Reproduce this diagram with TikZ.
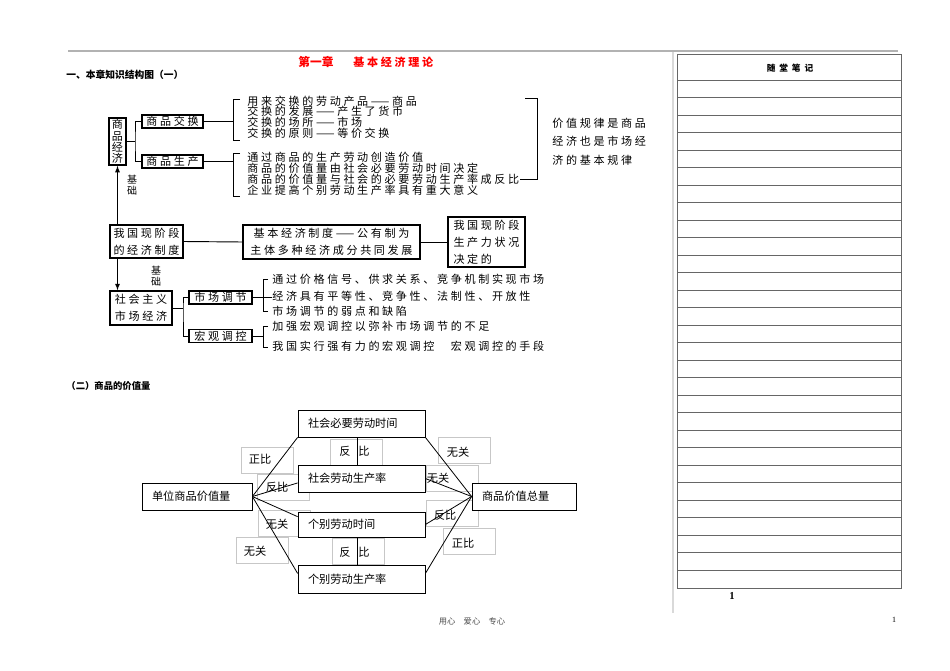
\documentclass[tikz,border=0pt]{standalone}
\usepackage{fontspec}
\setmainfont{Liberation Serif}
\newfontfamily\cjk{Noto Sans CJK SC}
\newfontfamily\cjksp[LetterSpace=24]{Noto Sans CJK SC}
\newfontfamily\cjkwide[LetterSpace=45]{Noto Sans CJK SC}
\usetikzlibrary{calc}

\begin{document}
\begin{tikzpicture}[x=0.75pt,y=-0.75pt,line width=0.7pt,every node/.style={inner sep=0pt},
  box/.style={draw,fill=white,line width=1pt,inner sep=1pt,align=center,font=\cjksp\fontsize{8.3}{12.75}\selectfont},
  ln/.style={anchor=west,font=\cjksp\fontsize{8.3}{10}\selectfont},
  fbox/.style={draw,fill=white,line width=0.6pt,align=left,inner xsep=7.5pt,font=\cjk\fontsize{8.4}{10}\selectfont},
  lab/.style={font=\cjk\fontsize{8.4}{10}\selectfont},
  small/.style={align=center,font=\cjk\fontsize{7.5}{7.8}\selectfont},
  gframe/.style={draw=black!22,line width=0.5pt},
  rule/.style={draw=black!60,line width=0.75pt}]
\useasboundingbox[fill=white] (0,0) rectangle (950,671);

% page frame
\draw[gray!60,line width=1.5pt] (68,51) -- (898,51);
\draw[gray!30,line width=1.5pt] (673,52) -- (673,613);
\node[anchor=west,red,font=\cjk\bfseries\fontsize{8.8}{10}\selectfont] (ttl1) at (298,62) {第一章};
\node[anchor=west,red,font=\cjksp\bfseries\fontsize{8.3}{10}\selectfont] (ttl2) at (353,62) {基本经济理论};
\node[anchor=west,font=\cjk\bfseries\fontsize{7.3}{9}\selectfont] (sec1) at (66,75) {一、本章知识结构图（一）};
\node[anchor=west,font=\cjk\bfseries\fontsize{7}{9}\selectfont] (sec2) at (66,386) {（二）商品的价值量};

% ---- structure chart (一) ----
\node[box,minimum width=12.75pt,minimum height=35.25pt,font=\cjk\fontsize{8.3}{8.6}\selectfont] (spjj) at (117.5,141.5) {商\\品\\经\\济};
\node[box,minimum width=45.75pt,minimum height=8pt] (spjh) at (172.5,121.5) {商品交换};
\node[box,minimum width=45.75pt,minimum height=8pt] (spsc) at (172.5,161.5) {商品生产};
\coordinate (fk1) at (135,141.5);
\draw (spjj.east) -- (fk1);
\draw (spjh.west) -| (fk1) |- (spsc.west);

\node[ln] (a1) at (247,101) {用来交换的劳动产品——商品};
\node[ln] (a2) at (247,111.5) {交换的发展——产生了货币};
\node[ln] (a3) at (247,122.5) {交换的场所——市场};
\node[ln] (a4) at (247,133.5) {交换的原则——等价交换};
\coordinate (k1t) at (233,99);
\coordinate (k1b) at (233,140);
\draw (spjh.east) -- (spjh.east -| k1t);
\draw (k1t) ++(7,0) -- (k1t) -- (k1b) -- ++(7,0);

\node[ln] (p1) at (247,157) {通过商品的生产劳动创造价值};
\node[ln] (p2) at (247,168.5) {商品的价值量由社会必要劳动时间决定};
\node[ln] (p3) at (247,179.5) {商品的价值量与社会的必要劳动生产率成反比};
\node[ln] (p4) at (247,190.5) {企业提高个别劳动生产率具有重大意义};
\coordinate (k2t) at (233,153);
\coordinate (k2b) at (233,196);
\draw (spsc.east) -- (spsc.east -| k2t);
\draw (k2t) ++(7,0) -- (k2t) -- (k2b) -- ++(7,0);

% right bracket
\coordinate (kr) at (537,98);
\draw (kr) ++(-12,0) -- (kr) -- (kr |- p3.east) -- (p3.east);
\node[ln] (law1) at (552,123) {价值规律是商品};
\node[ln] (law2) at (552,141.5) {经济也是市场经};
\node[ln] (law3) at (552,160) {济的基本规律};

% basis
\node[box,minimum width=54.75pt,minimum height=24.75pt] (jjzd) at (146.5,241.5) {我国现阶段\\的经济制度};
\draw[-latex] (spjj.south |- jjzd.north) -- (spjj.south);
\node[small] (jc1) at (132,185) {基\\础};
\node[box,minimum width=132.75pt,minimum height=25.5pt] (jbzd) at (331.5,242) {基本经济制度——公有制为\\主体多种经济成分共同发展};
\node[box,align=left,minimum width=57.75pt,minimum height=37.5pt] (scl) at (486.5,242) {我国现阶段\\生产力状况\\决定的};
\draw (jjzd.east) -- (jbzd.west);
\draw (jbzd.east) -- (scl.west);

\node[box,minimum width=46.5pt,minimum height=25.5pt] (scjj) at (141,308) {社会主义\\市场经济};
\draw[-latex] (spjj.south |- jjzd.south) -- (spjj.south |- scjj.north);
\node[small] (jc2) at (156,276) {基\\础};

\node[box,minimum width=47.25pt,minimum height=8pt] (sctj) at (220.5,297.5) {市场调节};
\node[box,minimum width=47.25pt,minimum height=8pt] (hgtk) at (220.5,336) {宏观调控};
\coordinate (fk2) at (183,308);
\draw (scjj.east) -- (fk2);
\draw (sctj.west) -| (fk2) |- (hgtk.west);

\node[ln] (c1) at (272,279) {通过价格信号、供求关系、竞争机制实现市场};
\node[ln] (c2) at (272,296) {经济具有平等性、竞争性、法制性、开放性};
\node[ln] (c3) at (272,311) {市场调节的弱点和缺陷};
\coordinate (k3t) at (263,279);
\coordinate (k3b) at (263,311);
\draw (sctj.east) -- (sctj.east -| c2.west);
\draw (k3t) ++(5,0) -- (k3t) -- (k3b) -- ++(5,0);

\node[ln] (d1) at (272,326) {加强宏观调控以弥补市场调节的不足};
\node[ln] (d2) at (272,346) {我国实行强有力的宏观调控　宏观调控的手段};
\coordinate (k4t) at (263,326);
\coordinate (k4b) at (263,347);
\draw (hgtk.east) -- (hgtk.east -| k4t);
\draw (k4t) ++(5,0) -- (k4t) -- (k4b) -- ++(5,0);

% ---- value chart (二) ----
\foreach \a/\b in {241/447,257/474,258/510,236/537,330/439,332/538,438/437,426/465,426/500,443/528}
  \draw[gframe] (\a,\b) rectangle ++(52,26);

\node[fbox,text width=67.5pt,minimum height=20.25pt] (unit) at (197,496.5) {单位商品价值量};
\node[fbox,text width=80.25pt,minimum height=20.25pt] (snt) at (361.5,423.5) {社会必要劳动时间};
\node[fbox,text width=80.25pt,minimum height=20.25pt] (sls) at (361.5,478.5) {社会劳动生产率};
\node[fbox,text width=80.25pt,minimum height=18.75pt] (gt) at (361.5,524.5) {个别劳动时间};
\node[fbox,text width=80.25pt,minimum height=21pt] (gls) at (361.5,579) {个别劳动生产率};
\node[fbox,text width=63pt,minimum height=20.25pt] (total) at (524,496.5) {商品价值总量};

\begin{scope}[line width=0.6pt]
\foreach \t in {snt.south west,sls.184,gt.173,gls.175} \draw (unit.east) -- (\t);
\foreach \t in {snt.south east,sls.east,gt.east,gls.5} \draw (total.west) -- (\t);
\draw ($(snt.south)+(-4.5,0)$) -- ($(sls.north)+(-4.5,0)$);
\draw ($(gt.south)+(-4.5,0)$) -- ($(gls.north)+(-4.5,0)$);
\end{scope}

\node[lab] (zb1) at (260,459) {正比};
\node[lab] (fb1) at (277,487) {反比};
\node[lab] (wg1) at (277,524) {无关};
\node[lab] (wg2) at (255,551) {无关};
\node[lab] (fan1) at (345,451) {反};
\node[lab] (bi1) at (364,451) {比};
\node[lab] (fan2) at (345,552) {反};
\node[lab] (bi2) at (364,552) {比};
\node[lab] (wg3) at (458,452) {无关};
\node[lab] (wg4) at (438,478) {无关};
\node[lab] (fb2) at (445,515) {反比};
\node[lab] (zb2) at (463,543) {正比};

% notes table
\draw[rule] (677,54) rectangle (901,588);
\foreach \i in {0,...,28} \draw[rule] (677,80+17.5*\i) -- (901,80+17.5*\i);
\node[font=\cjkwide\bfseries\fontsize{6.5}{8}\selectfont] (sbj) at (790,68) {随堂笔记};
\node[font=\bfseries\fontsize{8}{9}\selectfont] (pg1) at (732,596) {1};
\node[font=\fontsize{6}{7}\selectfont] (pg2) at (894,620) {1};
\node[text=black!70,font=\cjk\fontsize{6.2}{7}\selectfont] (ft) at (472,621) {用心　爱心　专心};
\end{tikzpicture}
\end{document}
